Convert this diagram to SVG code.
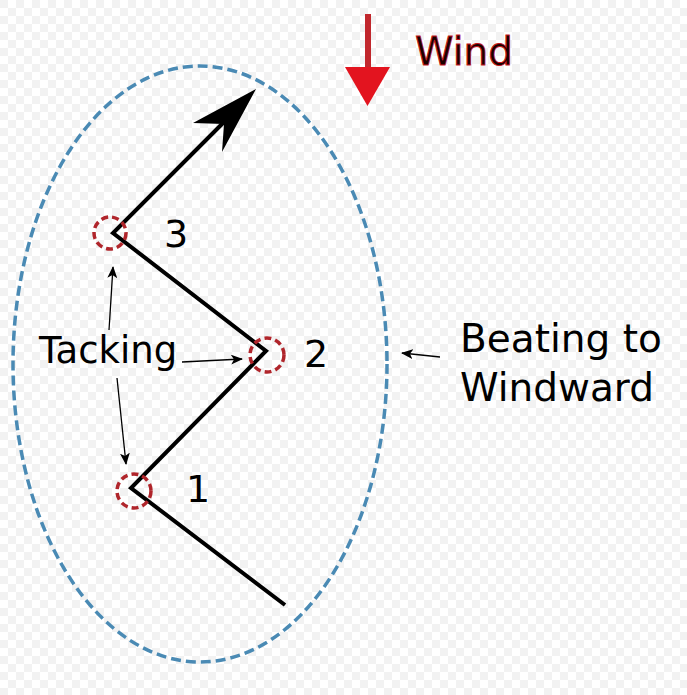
<svg xmlns="http://www.w3.org/2000/svg" width="687" height="695" viewBox="0 0 687 695">
<defs>
<pattern id="chk" width="16" height="16" patternUnits="userSpaceOnUse">
<rect width="16" height="16" fill="#ffffff"/>
<rect width="8" height="8" fill="#f2f2f2"/>
<rect x="8" y="8" width="8" height="8" fill="#f2f2f2"/>
</pattern>
<marker id="ah" viewBox="0 0 12 10" refX="11" refY="5" markerWidth="12" markerHeight="10" markerUnits="userSpaceOnUse" orient="auto">
<path d="M0,0 L12,5 L0,10 L3,5 Z" fill="#000"/>
</marker>
<style>
.lbl{font-family:"DejaVu Sans","Liberation Sans",sans-serif;fill:#000;}
.tack{fill:none;stroke:#b0252b;stroke-width:3.5;stroke-dasharray:7,4;}
.thin{fill:none;stroke:#000;stroke-width:1.3;marker-end:url(#ah);}
</style>
</defs>
<rect width="687" height="695" fill="url(#chk)"/>
<g id="region">
<ellipse cx="200" cy="364" rx="187" ry="298" fill="none" stroke="#4a8ab4" stroke-width="3.5" stroke-dasharray="10,5"/>
</g>
<g id="wind">
<line x1="368" y1="14" x2="368" y2="70" stroke="#c1272d" stroke-width="6"/>
<polygon points="345,67 390,67 367.5,106" fill="#e3141f"/>
<text x="415" y="65" class="lbl" font-size="39" style="fill:#1a0000;stroke:#c4161c;stroke-width:0.9">Wind</text>
</g>
<g id="course">
<polyline points="285,605 131,488 266,351 113,233 226,120" fill="none" stroke="#000" stroke-width="4" stroke-linejoin="miter"/>
<polygon points="256,89 222,152 224,124 193,123" fill="#000"/>
</g>
<g id="tack3"><circle cx="110" cy="233" r="16" class="tack"/><text x="164" y="247" class="lbl" font-size="38">3</text></g>
<g id="tack2"><circle cx="267" cy="355" r="17" class="tack"/><text x="304" y="367" class="lbl" font-size="38">2</text></g>
<g id="tack1"><circle cx="134" cy="491" r="17" class="tack"/><text x="186" y="502" class="lbl" font-size="38">1</text></g>
<g id="tacking"><text x="39" y="363" class="lbl" font-size="37">Tacking</text></g>
<g id="beating"><text class="lbl" font-size="39"><tspan x="460" y="352">Beating to</tspan><tspan x="460" y="401">Windward</tspan></text></g>
<g id="connectors">
<line x1="109" y1="330" x2="113" y2="267" class="thin"/>
<line x1="182" y1="362" x2="242" y2="359" class="thin"/>
<line x1="117" y1="378" x2="126" y2="464" class="thin"/>
<line x1="440" y1="357" x2="402" y2="353" class="thin"/>
</g>
</svg>
